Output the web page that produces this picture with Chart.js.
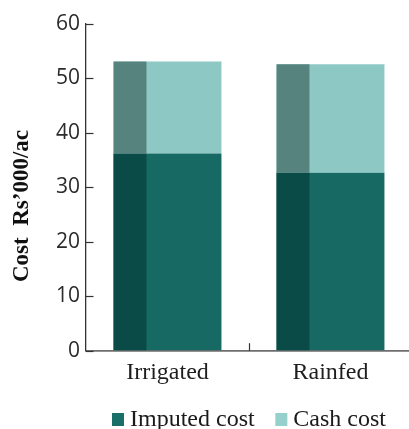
<!DOCTYPE html>
<html>
<head>
<meta charset="utf-8">
<script src="https://cdn.jsdelivr.net/npm/chart.js@4/dist/chart.umd.min.js"></script>
<style>
  html, body { margin: 0; padding: 0; background: #fff; overflow: hidden; }
  #c { display: block; }
</style>
</head>
<body>
<canvas id="c" width="412" height="429"></canvas>
<script>
// Cost of cultivation, Rs'000 per acre
const categories = ['Irrigated', 'Rainfed'];
const imputedCost = [36.2, 32.7];
const cashCost = [16.9, 19.9];
const seriesNames = ['Imputed cost', 'Cash cost'];
const yTicks = [0, 10, 20, 30, 40, 50, 60];
const yTitle = 'Cost  Rs\u2019000/ac';

const FRONT = ['#176a63', '#8ec8c4'];
const SIDE = ['#0b4b47', '#57837f'];
const LEGEND = ['#1a7068', '#95d0cc'];
const SIDE_RATIO = 0.305;

// darker left face on every bar segment, giving the columns a block look
const sideFaces = {
  id: 'sideFaces',
  afterDatasetsDraw(chart) {
    const ctx = chart.ctx;
    chart.data.datasets.forEach((ds, i) => {
      const meta = chart.getDatasetMeta(i);
      meta.data.forEach(bar => {
        const p = bar.getProps(['x', 'y', 'base', 'width'], true);
        const left = p.x - p.width / 2;
        ctx.save();
        ctx.fillStyle = SIDE[i];
        ctx.fillRect(left, Math.min(p.y, p.base), p.width * SIDE_RATIO, Math.abs(p.base - p.y));
        ctx.restore();
      });
    });
  }
};

// tick marks pointing into the plot, axis title and legend row
const decorations = {
  id: 'decorations',
  afterDraw(chart) {
    const ctx = chart.ctx;
    const area = chart.chartArea;
    const ys = chart.scales.y;
    const xs = chart.scales.x;
    ctx.save();
    ctx.strokeStyle = '#333';
    ctx.lineWidth = 1.2;
    ys.ticks.forEach(t => {
      const py = Math.round(ys.getPixelForValue(t.value)) + 0.5;
      ctx.beginPath();
      ctx.moveTo(area.left, py);
      ctx.lineTo(area.left + 7.5, py);
      ctx.stroke();
    });
    for (let i = 1; i < categories.length; i++) {
      const px = Math.round((xs.getPixelForValue(i - 1) + xs.getPixelForValue(i)) / 2) + 0.5;
      ctx.beginPath();
      ctx.moveTo(px, area.bottom);
      ctx.lineTo(px, area.bottom - 7.5);
      ctx.stroke();
    }

    // y axis title
    ctx.fillStyle = '#111';
    ctx.font = 'bold 23px "Liberation Serif"';
    ctx.textAlign = 'center';
    ctx.textBaseline = 'alphabetic';
    ctx.translate(27.5, 206);
    ctx.rotate(-Math.PI / 2);
    ctx.fillText(yTitle, 0, 0);
    ctx.restore();

    // legend
    ctx.save();
    ctx.font = '24px "Liberation Serif"';
    ctx.textBaseline = 'alphabetic';
    ctx.textAlign = 'left';
    const box = 12, gap = 6, itemGap = 20.7;
    const widths = chart.data.datasets.map(d => ctx.measureText(d.label).width);
    let total = 0;
    widths.forEach((w, i) => { total += box + gap + w + (i ? itemGap : 0); });
    let x = (area.left + area.right) / 2 - total / 2;
    const baseline = 426;
    chart.data.datasets.forEach((d, i) => {
      ctx.fillStyle = LEGEND[i];
      ctx.fillRect(x, baseline - 13, box, 13);
      ctx.fillStyle = '#1a1a1a';
      ctx.fillText(d.label, x + box + gap, baseline);
      x += box + gap + widths[i] + itemGap;
    });
    ctx.restore();
  }
};

new Chart(document.getElementById('c'), {
  type: 'bar',
  data: {
    labels: categories,
    datasets: [
      { label: seriesNames[0], data: imputedCost, backgroundColor: FRONT[0], borderWidth: 0 },
      { label: seriesNames[1], data: cashCost, backgroundColor: FRONT[1], borderWidth: 0 }
    ]
  },
  options: {
    responsive: false,
    animation: false,
    layout: { padding: { left: 0, right: 0, top: 24, bottom: 33.5 } },
    plugins: { legend: { display: false }, tooltip: { enabled: false } },
    datasets: { bar: { barPercentage: 0.662, categoryPercentage: 1.0 } },
    scales: {
      x: {
        stacked: true,
        offset: true,
        grid: { display: true, drawOnChartArea: false, drawTicks: false },
        border: { display: true, color: '#6e6e6e', width: 1.8 },
        ticks: { padding: 8, color: '#1e1e1e', font: { family: '"Liberation Serif"', size: 24 } }
      },
      y: {
        stacked: true,
        min: yTicks[0],
        max: yTicks[yTicks.length - 1],
        afterFit(scale) { scale.width = 86; },
        afterBuildTicks(scale) { scale.ticks = yTicks.map(v => ({ value: v })); },
        grid: { display: true, drawOnChartArea: false, drawTicks: false },
        border: { display: true, color: '#333', width: 1.3 },
        ticks: { padding: 6, color: '#2b2b2b', font: { family: '"Open Sans"', size: 21 } }
      }
    }
  },
  plugins: [sideFaces, decorations]
});
</script>
</body>
</html>
